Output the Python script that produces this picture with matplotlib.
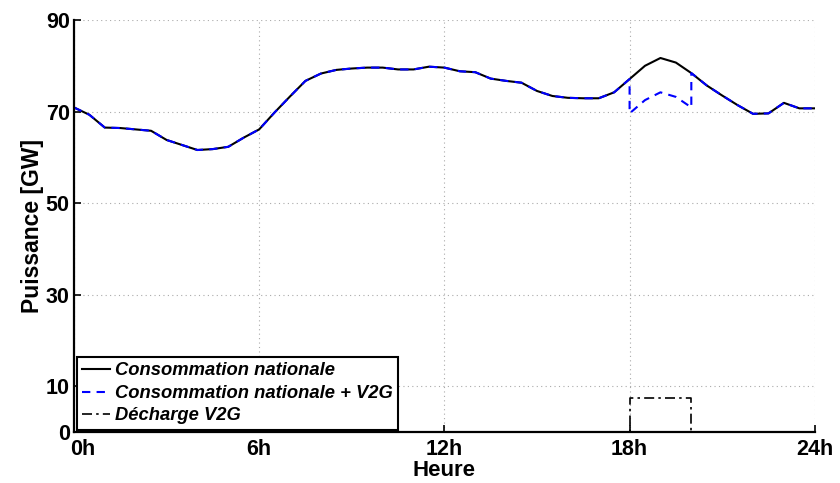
import numpy as np
import matplotlib
matplotlib.use("Agg")
import matplotlib.pyplot as plt
import matplotlib.transforms as mtransforms

# national consumption, every half hour from 0h to 24h (GW)
heures = np.arange(0, 24.5, 0.5)
consommation = [
    70.9, 69.3, 66.5, 66.4, 66.1, 65.8, 63.8, 62.7, 61.6, 61.8,
    62.3, 64.3, 66.1, 69.8, 73.3, 76.7, 78.3, 79.1, 79.4, 79.6,
    79.6, 79.2, 79.2, 79.8, 79.6, 78.8, 78.6, 77.2, 76.7, 76.3,
    74.5, 73.4, 73.0, 72.9, 72.9, 74.2, 77.1, 80.0, 81.7, 80.7,
    78.4, 75.7, 73.5, 71.4, 69.5, 69.6, 71.9, 70.7, 70.7,
]

# V2G discharge window
v2g_heures = [18.0, 18.5, 19.0, 19.5, 20.0]
v2g_conso = [69.6, 72.5, 74.2, 73.2, 70.9]
decharge_heures = [0, 18, 18, 20, 20, 24]
decharge = [0, 0, 7.5, 7.5, 0, 0]

xticks = [0, 6, 12, 18, 24]
xticklabels = ["0h", "6h", "12h", "18h", "24h"]
yticks = [0, 10, 30, 50, 70, 90]

plt.rcParams["font.family"] = ["Liberation Sans", "DejaVu Sans"]
plt.rcParams["font.weight"] = "bold"

fig = plt.figure(figsize=(8.4, 4.83), dpi=100)
ax = fig.add_axes([0.088, 0.1056, 0.882, 0.853])

# V2G curve: national consumption outside the window, reduced inside it
h = np.asarray(heures)
c = np.asarray(consommation)
before = h <= 18
after = h >= 20
x_v2g = np.concatenate([h[before], v2g_heures, h[after]])
y_v2g = np.concatenate([c[before], v2g_conso, c[after]])

ax.plot(heures, consommation, color="black", lw=1.5, label="Consommation nationale")
ax.plot(x_v2g, y_v2g, color="blue", lw=1.5, ls=(0, (4, 3)), label="Consommation nationale + V2G")
ax.plot(decharge_heures, decharge, color="black", lw=1.2, ls=(0, (6, 2.5, 1.5, 2.5)), label="Décharge V2G")

ax.set_xlim(0, 24)
ax.set_ylim(0, 90)
ax.set_xticks(xticks)
ax.set_xticklabels(xticklabels)
ax.set_yticks(yticks)
ax.tick_params(direction="in", length=5, width=1.2, labelsize=15.5)
ax.tick_params(axis="x", pad=5)
ax.tick_params(axis="y", pad=3)
for lab in ax.get_xticklabels() + ax.get_yticklabels():
    lab.set_fontweight("bold")
# first x label is pushed to the right, as in the original
first = ax.get_xticklabels()[0]
first.set_horizontalalignment("left")
first.set_transform(first.get_transform() + mtransforms.ScaledTranslation(-4 / 100, 0, fig.dpi_scale_trans))

ax.grid(True, color="#aaaaaa", ls=(0, (1, 3)), lw=0.8)
ax.spines["top"].set_visible(False)
ax.spines["right"].set_visible(False)
ax.spines["left"].set_linewidth(1.6)
ax.spines["bottom"].set_linewidth(1.6)

ax.set_xlabel("Heure", fontsize=16, fontweight="bold")
ax.xaxis.set_label_coords(0.5, -0.069)
ax.set_ylabel("Puissance [GW]", fontsize=16.5, fontweight="bold", labelpad=1)

leg = ax.legend(loc="lower left", bbox_to_anchor=(0.004, 0.005), fancybox=False,
                prop={"size": 13.2, "weight": "bold", "style": "italic"},
                handlelength=1.5, handletextpad=0.28, labelspacing=0.3,
                borderpad=0.3, borderaxespad=0.0, framealpha=1)
leg.get_frame().set_edgecolor("black")
leg.get_frame().set_linewidth(1.5)

fig.savefig("out.png", dpi=100)
